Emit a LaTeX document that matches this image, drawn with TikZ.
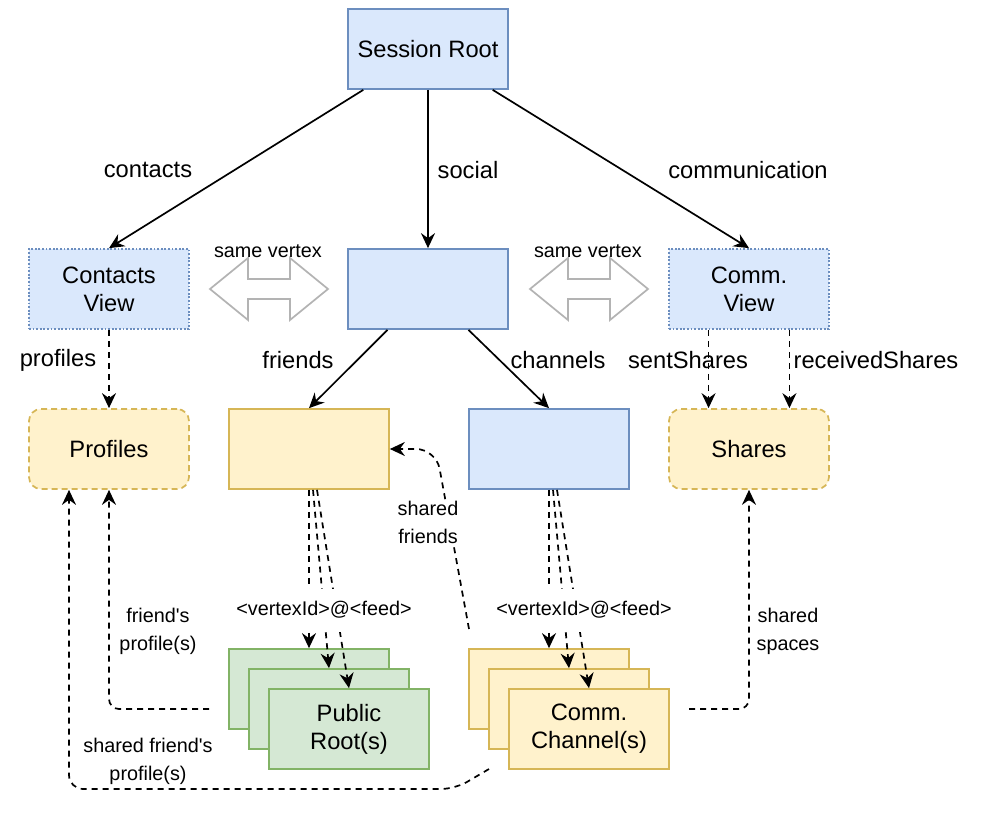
\documentclass[tikz,border=0pt]{standalone}
\usepackage{fontspec}
\setmainfont{Liberation Sans}[Ligatures=TeXOff]
\usetikzlibrary{arrows.meta,calc}
\definecolor{bfill}{HTML}{DAE8FC}
\definecolor{bline}{HTML}{6C8EBF}
\definecolor{yfill}{HTML}{FFF2CC}
\definecolor{yline}{HTML}{D6B656}
\definecolor{gfill}{HTML}{D5E8D4}
\definecolor{gline}{HTML}{82B366}
\definecolor{grayc}{HTML}{B3B3B3}
\begin{document}
\begin{tikzpicture}[x=1pt,y=-1pt,
  box/.style={minimum width=160pt, minimum height=80pt, inner sep=0pt, line width=1.7pt, align=center, font=\fontsize{23.7}{28}\selectfont},
  bluebox/.style={box, fill=bfill, draw=bline},
  viewbox/.style={bluebox, dash pattern=on 1.8pt off 1.8pt},
  yellowbox/.style={box, fill=yfill, draw=yline},
  greenbox/.style={box, fill=gfill, draw=gline},
  softbox/.style={yellowbox, rounded corners=12pt, dash pattern=on 6pt off 4pt},
  link/.style={line width=1.7pt, -{Stealth[length=15pt,width=14pt,inset=5pt]}},
  dlink/.style={link, dash pattern=on 6pt off 5pt},
  lbl/.style={font=\fontsize{23.7}{28}\selectfont, inner sep=1pt},
  slbl/.style={font=\fontsize{19.8}{28}\selectfont, align=center, inner sep=1pt},
  dblarrow/.style={draw=grayc, fill=white, line width=1.7pt}
]
\useasboundingbox (0,0) rectangle (996,838);
\fill[white] (0,0) rectangle (996,838);

% boxes
\node[bluebox] (root) at (428,49) {Session Root};
\node[viewbox] (cv) at (109,289) {Contacts\\View};
\node[bluebox] (soc) at (428,289) {};
\node[viewbox] (mv) at (749,289) {Comm.\\View};
\node[softbox] (prof) at (109,449) {Profiles};
\node[yellowbox] (fr) at (309,449) {};
\node[bluebox] (ch) at (549,449) {};
\node[softbox] (sh) at (749,449) {Shares};
\node[greenbox] (pr1) at (309,689) {};
\node[greenbox] (pr2) at (329,709) {};
\node[greenbox] (pr3) at (349,729) {Public\\Root(s)};
\node[yellowbox] (cc1) at (549,689) {};
\node[yellowbox] (cc2) at (569,709) {};
\node[yellowbox] (cc3) at (589,729) {Comm.\\Channel(s)};

% same vertex arrows
\draw[dblarrow] (210,289) -- (248,258) -- (248,279) -- (290,279) -- (290,258) -- (328,289) -- (290,320) -- (290,299) -- (248,299) -- (248,320) -- cycle;
\draw[dblarrow] (530,289) -- (568,258) -- (568,279) -- (610,279) -- (610,258) -- (648,289) -- (610,320) -- (610,299) -- (568,299) -- (568,320) -- cycle;
\node[slbl] (sv1) at (268,251) {same vertex};
\node[slbl] (sv2) at (588,251) {same vertex};

% top edges
\draw[link] ($(root.south west)!0.1!(root.south east)$) -- (cv.north);
\draw[link] (root) -- (soc);
\draw[link] ($(root.south west)!0.9!(root.south east)$) -- (mv.north);
\node[lbl] (l1) at (148,170) {contacts};
\node[lbl] (l2) at (468,170) {social};
\node[lbl] (l3) at (748,170) {communication};

% second level
\draw[link] ($(soc.south west)!0.25!(soc.south east)$) -- (fr.north);
\draw[link] ($(soc.south west)!0.75!(soc.south east)$) -- (ch.north);
\draw[dlink] (cv) -- (prof);
\draw[dlink] ($(mv.south west)!0.25!(mv.south east)$) -- ($(sh.north west)!0.25!(sh.north east)$);
\draw[dlink] ($(mv.south west)!0.75!(mv.south east)$) -- ($(sh.north west)!0.75!(sh.north east)$);
\node[lbl] (l4) at (58,360) {profiles};
\node[lbl] (l5) at (298,360) {friends};
\node[lbl] (l6) at (558,360) {channels};
\node[lbl] (l7) at (688,360) {sentShares};
\node[lbl] (l8) at (876,360) {receivedShares};

% bundles
\draw[dlink] (fr.south) -- (pr1.north);
\draw[dlink] ($(fr.south)+(4,0)$) -- (pr2.north);
\draw[dlink] ($(fr.south)+(8,0)$) -- (pr3.north);
\draw[dlink] (ch.south) -- (cc1.north);
\draw[dlink] ($(ch.south)+(4,0)$) -- (cc2.north);
\draw[dlink] ($(ch.south)+(8,0)$) -- (cc3.north);
\node[slbl, fill=white, minimum height=43pt] (v1) at (324,610) {<vertexId>@<feed>};
\node[slbl, fill=white, minimum height=43pt] (v2) at (584,610) {<vertexId>@<feed>};

% back references
\coordinate (sfS) at (469,629);
\draw[dlink, rounded corners=20pt] (sfS) -- (436,449) -- (fr.east);
\node[slbl, fill=white] (l9) at (428,522) {shared\\friends};

\coordinate (fpS) at (209,709);
\draw[dlink, rounded corners=10pt] (fpS) -- (109,709) -- (prof.south);
\node[slbl] (l10) at (158,631) {friend's\\profile(s)};

\coordinate (sfpS) at (489,769);
\draw[dlink, rounded corners=14pt] (sfpS) -- (455,789) -- (69,789) -- ($(prof.south)+(-40,0)$);
\node[slbl] (l11) at (148,761) {shared friend's\\profile(s)};

\coordinate (ssS) at (689,709);
\draw[dlink, rounded corners=10pt] (ssS) -- (749,709) -- (sh.south);
\node[slbl] (l12) at (788,631) {shared\\spaces};
\end{tikzpicture}
\end{document}
